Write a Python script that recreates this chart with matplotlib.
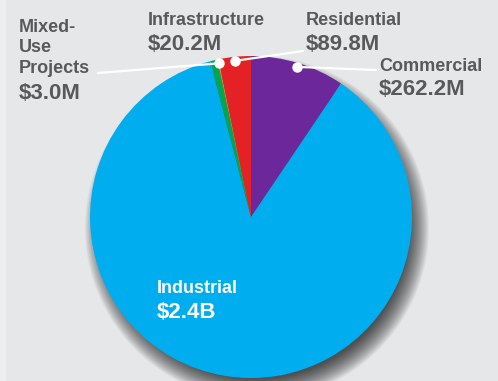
import numpy as np
import matplotlib.pyplot as plt
from matplotlib.patches import Circle, Rectangle

# Datos (en millones de dólares)
sectores = ['Commercial', 'Industrial', 'Infrastructure', 'Mixed-Use Projects', 'Residential']
valores = [262.2, 2400.0, 20.2, 3.0, 89.8]
etiquetas_valor = ['$262.2M', '$2.4B', '$20.2M', '$3.0M', '$89.8M']
colores = ['#6c279b', '#00aeef', '#00a651', '#f7941d', '#e42124']

W, H = 498, 381
fondo = '#e6e7e9'
gris_texto = '#58595b'

fig = plt.figure(figsize=(W / 100, H / 100), dpi=100)
fig.patch.set_facecolor(fondo)
ax = fig.add_axes([0, 0, 1, 1])
ax.set_facecolor(fondo)

cx, cy, R = 251, H - 217, 161

# franja clara a la izquierda
ax.add_patch(Rectangle((0, 0), 5, H, color='#eeeff0', zorder=0))

# sombra difusa
for k in range(22):
    ax.add_patch(Circle((cx + 6, cy - 11), R + 11 - k, color='black', alpha=0.045, lw=0, zorder=1))

wedges, _ = ax.pie(valores, colors=colores, startangle=90, counterclock=False,
                   center=(cx, cy), radius=R, wedgeprops=dict(linewidth=0, zorder=2))
ax.set_xlim(0, W)
ax.set_ylim(0, H)
ax.axis('off')

fuente = 'Liberation Sans'

def px(x, y):
    return x, H - y

# puntos de las etiquetas en el ángulo medio de cada porción
def punto(i, f=0.975):
    w = wedges[i]
    ang = np.deg2rad((w.theta1 + w.theta2) / 2)
    return cx + f * R * np.cos(ang), cy + f * R * np.sin(ang)

# líneas guía
guias = {3: px(98, 73), 4: px(303, 51), 0: px(376, 70)}
for i, (lx, ly) in guias.items():
    dx, dy = punto(i)
    ax.plot([dx, lx], [dy, ly], color='white', lw=1.6, zorder=4, solid_capstyle='round')
    ax.plot(dx, dy, 'o', color='white', ms=7.5, mew=0, zorder=5)

def texto(x, y, s, size, color=gris_texto):
    ax.text(*px(x, y), s, fontsize=size, fontweight='bold', family=fuente,
            color=color, va='baseline', ha='left', zorder=6)

# Mixed-Use Projects
texto(19, 32, 'Mixed-', 13)
texto(19, 52.5, 'Use', 13)
texto(19, 73, 'Projects', 13)
texto(19, 99, etiquetas_valor[3], 16)
# Infrastructure
texto(148, 25, 'Infrastructure', 13)
texto(148, 50, etiquetas_valor[2], 16)
# Residential
texto(306, 25, 'Residential', 13)
texto(306, 50, etiquetas_valor[4], 16)
# Commercial
texto(379, 71, 'Commercial', 13)
texto(379, 95, etiquetas_valor[0], 16)
# Industrial
texto(157, 293, 'Industrial', 13, 'white')
texto(157, 318, etiquetas_valor[1], 16, 'white')

fig.savefig('out.png', dpi=100, facecolor=fondo)
